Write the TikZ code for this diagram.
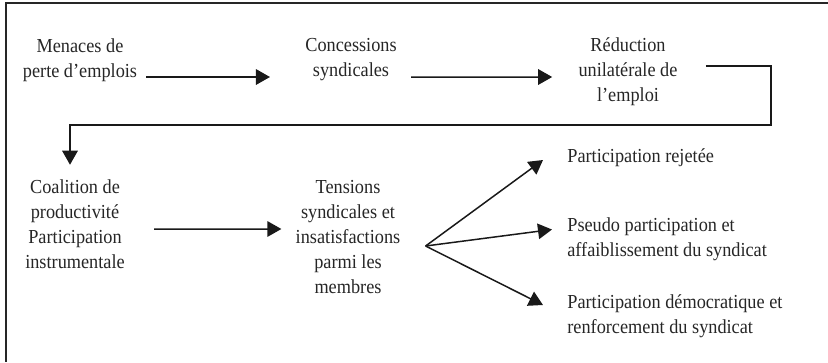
\documentclass[tikz,border=0pt]{standalone}
\usepackage{fontspec}
\setmainfont{Liberation Serif}[FakeStretch=0.92]
\usetikzlibrary{positioning,arrows.meta}
\tikzstyle{Etape}=[align=center, inner sep=0pt, text=black!85, font=\fontsize{11.3}{14.2}\selectfont]
\tikzstyle{Issue}=[align=left, inner sep=0pt, anchor=west, text=black!85, font=\fontsize{11.3}{14.2}\selectfont]
\tikzstyle{Fleche}=[-{Triangle[length=2.8mm, width=3.1mm]}, line width=0.85pt, black!90]

\begin{document}
\begin{tikzpicture}
			\useasboundingbox (0,0) rectangle (16.56,-7.24);
			%Cadre
			\draw[line width=0.9pt, black!85] (16.56,-0.06) -- (0.12,-0.06) -- (0.12,-7.24);

			%Nodos
			\node[Etape]	(menaces)		at (1.6,-1.2)		{Menaces de\\perte d'emplois};
			\node[Etape]	(concessions)	at (7.02,-1.2)		{Concessions\\syndicales};
			\node[Etape]	(reduction)		at (12.56,-1.44)	{Réduction\\unilatérale de\\l'emploi};

			\node[Etape]	(coalition)		at (1.5,-4.49)		{Coalition de\\productivité\\Participation\\instrumentale};
			\node[Etape]	(tensions)		at (6.96,-4.74)		{Tensions\\syndicales et\\insatisfactions\\parmi les\\membres};

			\node[Issue]	(rejetee)		at (11.34,-3.16)	{Participation rejetée};
			\node[Issue]	(pseudo)		at (11.34,-4.79)	{Pseudo participation et\\affaiblissement du syndicat};
			\node[Issue]	(democ)			at (11.34,-6.32)	{Participation démocratique et\\renforcement du syndicat};

			\coordinate		(coude)			at (15.42,-2.5);
			\coordinate		(fourche)		at ([xshift=0.5cm,yshift=-0.18cm]tensions.east);

			%Lineas
			\draw[Fleche] ([xshift=0.18cm,yshift=-0.34cm]menaces.east) -- ([xshift=-0.7cm,yshift=-0.34cm]concessions.west);
			\draw[Fleche] ([xshift=0.28cm,yshift=-0.34cm]concessions.east) -- ([xshift=-0.52cm,yshift=-0.1cm]reduction.west);
			\draw[Fleche] ([xshift=0.56cm,yshift=0.12cm]reduction.east) -| (coude) -| ([xshift=-0.1cm,yshift=0.3cm]coalition.north);
			\draw[Fleche] ([xshift=0.58cm,yshift=-0.09cm]coalition.east) -- ([xshift=-0.28cm,yshift=0.16cm]tensions.west);

			\draw[Fleche] (fourche) -- ([xshift=-0.48cm,yshift=-0.04cm]rejetee.west);
			\draw[Fleche] (fourche) -- ([xshift=-0.3cm,yshift=0.2cm]pseudo.west);
			\draw[Fleche] (fourche) -- ([xshift=-0.48cm,yshift=0.22cm]democ.west);

		\end{tikzpicture}
\end{document}
